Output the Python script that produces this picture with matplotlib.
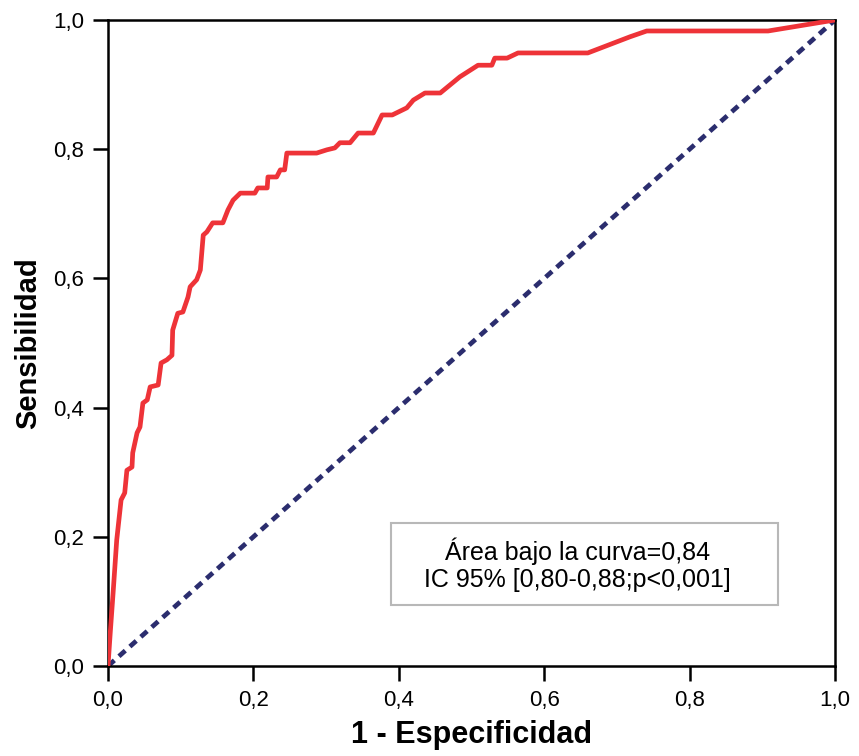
"""ROC curve: sensibilidad vs 1 - especificidad."""
import matplotlib
matplotlib.use("Agg")
import matplotlib.pyplot as plt
from matplotlib.patches import Rectangle

# --- Curve points
fpr = [0.0, 0.003, 0.007, 0.012, 0.018, 0.023, 0.026, 0.033, 0.034, 0.040,
       0.044, 0.048, 0.054, 0.058, 0.069, 0.073, 0.081, 0.088, 0.089, 0.096,
       0.103, 0.110, 0.113, 0.122, 0.127, 0.131, 0.136, 0.144, 0.158, 0.165,
       0.172, 0.182, 0.202, 0.206, 0.219, 0.220, 0.232, 0.237, 0.243, 0.246,
       0.287, 0.301, 0.312, 0.319, 0.333, 0.344, 0.365, 0.377, 0.391, 0.411,
       0.420, 0.436, 0.457, 0.484, 0.509, 0.528, 0.532, 0.549, 0.564, 0.660,
       0.718, 0.741, 0.908, 1.0]
tpr = [0.0, 0.05, 0.113, 0.195, 0.257, 0.268, 0.303, 0.308, 0.330, 0.361,
       0.370, 0.407, 0.412, 0.432, 0.435, 0.469, 0.474, 0.481, 0.520, 0.546,
       0.548, 0.571, 0.587, 0.598, 0.613, 0.667, 0.672, 0.686, 0.686, 0.706,
       0.721, 0.732, 0.732, 0.740, 0.740, 0.757, 0.757, 0.768, 0.768, 0.794,
       0.794, 0.799, 0.802, 0.810, 0.810, 0.825, 0.825, 0.853, 0.853, 0.864,
       0.876, 0.887, 0.887, 0.912, 0.930, 0.930, 0.941, 0.941, 0.949, 0.949,
       0.974, 0.983, 0.983, 1.0]
ref_line = [0.0, 1.0]
ticks = [0.0, 0.2, 0.4, 0.6, 0.8, 1.0]
tick_labels = ["0,0", "0,2", "0,4", "0,6", "0,8", "1,0"]
note_lines = ["Área bajo la curva=0,84", "IC 95% [0,80-0,88;p<0,001]"]

plt.rcParams['font.family'] = ['Liberation Sans', 'DejaVu Sans']

fig = plt.figure(figsize=(8.59, 7.56), dpi=100)
ax = fig.add_axes([108 / 859, 90 / 756, 727 / 859, 646 / 756])

# --- Curves
ax.plot(ref_line, ref_line, color='#2b2d6e', linewidth=3.4,
        linestyle=(0, (1.8, 1.3)), zorder=2)
ax.plot(fpr, tpr, color='#ee3338', linewidth=3.4, zorder=3)

ax.set_xlim(0, 1)
ax.set_ylim(0, 1)
ax.set_xticks(ticks)
ax.set_xticklabels(tick_labels, fontsize=16)
ax.set_yticks(ticks)
ax.set_yticklabels(tick_labels, fontsize=16)
ax.tick_params(direction='out', length=11, width=1.8)
ax.tick_params(axis='x', pad=6)
ax.tick_params(axis='y', pad=6)
for sp in ax.spines.values():
    sp.set_linewidth(1.8)
    sp.set_color('black')

ax.set_xlabel("1 - Especificidad", fontsize=22, fontweight='bold', labelpad=7)
ax.set_ylabel("Sensibilidad", fontsize=21, fontweight='bold', labelpad=8)

# --- Annotation box
ax.add_patch(Rectangle((0.389, 0.094), 0.532, 0.128, transform=ax.transAxes,
                       facecolor='white', edgecolor='#b8b8b8', linewidth=1.5, zorder=4))
ax.text(0.646, 0.178, note_lines[0], transform=ax.transAxes,
        ha='center', va='center', fontsize=18, zorder=5)
ax.text(0.646, 0.133, note_lines[1], transform=ax.transAxes,
        ha='center', va='center', fontsize=18, zorder=5)

plt.savefig("out.png", dpi=100)
